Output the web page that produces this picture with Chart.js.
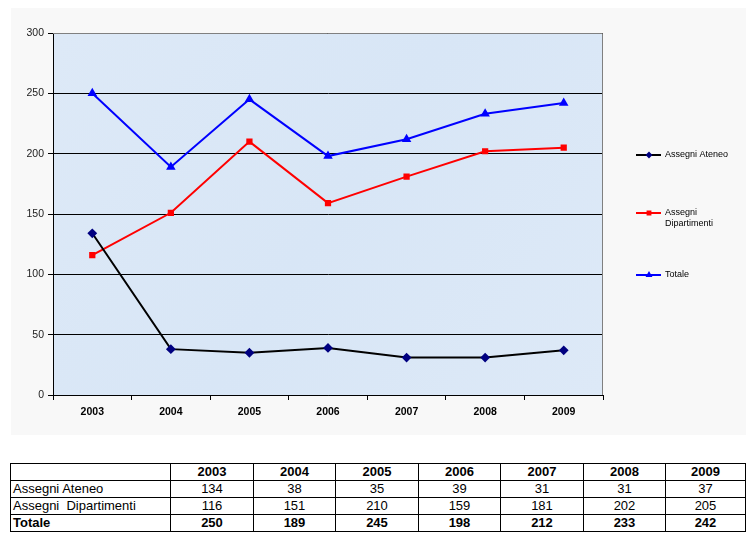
<!DOCTYPE html>
<html>
<head>
<meta charset="utf-8">
<script src="https://cdn.jsdelivr.net/npm/chart.js@4.4.0/dist/chart.umd.min.js"></script>
<style>
  html, body { margin: 0; padding: 0; background: #ffffff; }
  body { width: 753px; height: 540px; position: relative; overflow: hidden; font-family: Arial, "Liberation Sans", sans-serif; }
  #wrap { position: absolute; left: 11px; top: 8px; width: 735px; height: 427px; background: #f8f8f8; }
  #tbl { position: absolute; left: 10px; top: 463px; width: 735px; table-layout: fixed; border-collapse: collapse; font-family: Arial, "Liberation Sans", sans-serif; font-size: 13px; color: #000; }
  #tbl td { border: 1px solid #000; height: 16px; line-height: 16px; padding: 0 2px; text-align: center; overflow: hidden; white-space: nowrap; }
  #tbl td.lbl { text-align: left; }
  #tbl tr.bold td, #tbl tr.head td { font-weight: bold; }
</style>
</head>
<body>
<div id="wrap"><canvas id="c" width="735" height="427"></canvas></div>
<table id="tbl"></table>
<script>
const categories = ['2003', '2004', '2005', '2006', '2007', '2008', '2009'];
const assegniAteneo = [134, 38, 35, 39, 31, 31, 37];
const assegniDipartimenti = [116, 151, 210, 159, 181, 202, 205];
const totale = [250, 189, 245, 198, 212, 233, 242];
const seriesLabels = ['Assegni Ateneo', 'Assegni  Dipartimenti', 'Totale'];
const yTicks = [0, 50, 100, 150, 200, 250, 300];

// data table
(function () {
  const t = document.getElementById('tbl');
  const widths = [160, 83, 82, 83, 82, 83, 82, 80];
  let html = '<colgroup>' + widths.map(w => '<col style="width:' + w + 'px">').join('') + '</colgroup>';
  html += '<tr class="head"><td></td>';
  categories.forEach(c => { html += '<td>' + c + '</td>'; });
  html += '</tr>';
  const rows = [[seriesLabels[0], assegniAteneo, ''], [seriesLabels[1].replace('  ', '&nbsp; '), assegniDipartimenti, ''], [seriesLabels[2], totale, 'bold']];
  rows.forEach(r => {
    html += '<tr class="' + r[2] + '"><td class="lbl">' + r[0] + '</td>';
    r[1].forEach(v => { html += '<td>' + v + '</td>'; });
    html += '</tr>';
  });
  t.innerHTML = html;
})();

const plotBg = {
  id: 'plotBg',
  beforeDraw(chart) {
    const { ctx, chartArea: a } = chart;
    ctx.save();
    const g = ctx.createLinearGradient(a.left, a.top, a.right, a.bottom);
    g.addColorStop(0, '#dde9f7');
    g.addColorStop(0.5, '#d8e6f6');
    g.addColorStop(1, '#dde9f7');
    ctx.fillStyle = g;
    ctx.fillRect(a.left, a.top, a.right - a.left, a.bottom - a.top);
    ctx.restore();
  },
  afterDatasetsDraw(chart) {
    const { ctx, chartArea: a } = chart;
    ctx.save();
    ctx.strokeStyle = '#808080';
    ctx.lineWidth = 1;
    ctx.beginPath();
    ctx.moveTo(a.left, a.top + 0.5);
    ctx.lineTo(a.right - 0.5, a.top + 0.5);
    ctx.lineTo(a.right - 0.5, a.bottom);
    ctx.stroke();
    ctx.restore();
  }
};

const sideLegend = {
  id: 'sideLegend',
  afterDraw(chart) {
    const { ctx } = chart;
    const ys = [147, 205, 267];
    ctx.save();
    ctx.font = '9px Arial, "Liberation Sans", sans-serif';
    ctx.textBaseline = 'middle';
    chart.data.datasets.forEach((ds, i) => {
      const y = ys[i];
      ctx.strokeStyle = ds.borderColor;
      ctx.lineWidth = 2;
      ctx.beginPath();
      ctx.moveTo(625, y); ctx.lineTo(650, y); ctx.stroke();
      ctx.fillStyle = ds.pointBackgroundColor;
      ctx.strokeStyle = ds.pointBorderColor;
      Chart.helpers.drawPoint(ctx, { pointStyle: ds.pointStyle, radius: 2, borderWidth: 1 }, 638, y);
      ctx.fillStyle = '#000';
      const label = ds.label.replace(/\s+/g, ' ');
      if (ctx.measureText(label).width > 75) {
        const parts = label.split(' ');
        ctx.fillText(parts[0], 654, y);
        ctx.fillText(parts.slice(1).join(' '), 654, y + 11);
      } else {
        ctx.fillText(label, 654, y);
      }
    });
    ctx.restore();
  }
};

new Chart(document.getElementById('c'), {
  type: 'line',
  data: {
    labels: categories,
    datasets: [
      { label: seriesLabels[0], data: assegniAteneo, borderColor: '#000000', borderWidth: 2,
        pointStyle: 'rectRot', pointRadius: 3.5, pointBackgroundColor: '#000080', pointBorderColor: '#000080', tension: 0 },
      { label: seriesLabels[1], data: assegniDipartimenti, borderColor: '#ff0000', borderWidth: 2,
        pointStyle: 'rect', pointRadius: 3, pointBackgroundColor: '#ff0000', pointBorderColor: '#ff0000', tension: 0 },
      { label: seriesLabels[2], data: totale, borderColor: '#0000ff', borderWidth: 2,
        pointStyle: 'triangle', pointRadius: 3.5, pointBackgroundColor: '#0000ff', pointBorderColor: '#0000ff', tension: 0 }
    ]
  },
  options: {
    responsive: false,
    animation: false,
    layout: { padding: { left: 0, top: 25, right: 143, bottom: 0 } },
    plugins: { legend: { display: false }, tooltip: { enabled: false } },
    scales: {
      x: {
        offset: true,
        grid: { display: true, drawOnChartArea: false, drawTicks: true, offset: true, tickLength: 5, color: '#000' },
        border: { display: true, color: '#000', width: 1 },
        ticks: { color: '#000', font: { family: 'Arial, "Liberation Sans", sans-serif', size: 10.5, weight: 'bold' }, padding: 6 },
        afterFit(s) { s.height = 40; }
      },
      y: {
        min: 0, max: 300,
        afterBuildTicks(s) { s.ticks = yTicks.map(v => ({ value: v })); },
        grid: { color: '#000', lineWidth: 1, tickLength: 5, drawTicks: true },
        border: { display: true, color: '#000', width: 1 },
        ticks: { color: '#222', font: { family: 'Arial, "Liberation Sans", sans-serif', size: 10.5 }, padding: 4 },
        afterFit(s) { s.width = 42; }
      }
    }
  },
  plugins: [plotBg, sideLegend]
});
</script>
</body>
</html>
